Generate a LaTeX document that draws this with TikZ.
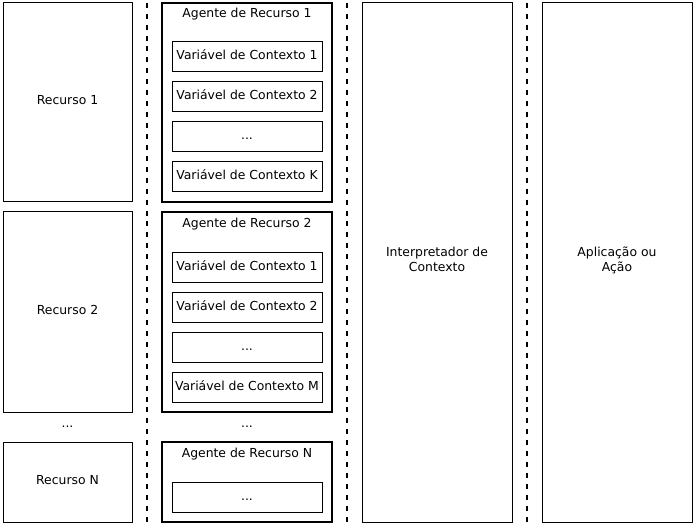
\documentclass[tikz,border=0pt]{standalone}
\usepackage{fontspec}
\setmainfont{DejaVu Sans}
\begin{document}
\begin{tikzpicture}[x=1pt,y=-1pt,
  every node/.style={font=\fontsize{12.4}{14.5}\selectfont, inner sep=0pt, text height=9pt, text depth=3pt},
  thinbox/.style={draw=black, line width=1pt, fill=white},
  thickbox/.style={draw=black, line width=2.5pt, fill=white},
  varbox/.style={thinbox, minimum width=150pt, minimum height=30pt},
  sepline/.style={draw=black, line width=2pt, dash pattern=on 5pt off 5.94pt},
  lbl/.style={align=center}]
\useasboundingbox (0,0) rectangle (694,524);
% separators
\coordinate (s1t) at (147,2.7); \coordinate (s1b) at (147,524);
\coordinate (s2t) at (347,2.7); \coordinate (s2b) at (347,524);
\coordinate (s3t) at (527,2.7); \coordinate (s3b) at (527,524);
\draw[sepline] (s1t) -- (s1b);
\draw[sepline] (s2t) -- (s2b);
\draw[sepline] (s3t) -- (s3b);
% resources
\draw[thinbox] (3,3) rectangle (132,202);
\node (r1) at (67.5,102) {Recurso 1};
\draw[thinbox] (3,212) rectangle (132,412);
\node (r2) at (67.5,311.5) {Recurso 2};
\node (rdots) at (67.5,424) {...};
\draw[thinbox] (3,442) rectangle (132,522);
\node (rn) at (67.5,481.5) {Recurso N};
% agent 1
\draw[thickbox] (162,3) rectangle (332,202);
\node (a1) at (247,15) {Agente de Recurso 1};
\node[varbox] (a1v1) at (247,57) {Variável de Contexto 1};
\node[varbox] (a1v2) at (247,97) {Variável de Contexto 2};
\node[varbox] (a1v3) at (247,137) {...};
\node[varbox] (a1v4) at (247,177) {Variável de Contexto K};
% agent 2
\draw[thickbox] (162,212) rectangle (332,412);
\node (a2) at (247,224) {Agente de Recurso 2};
\node[varbox] (a2v1) at (247,267) {Variável de Contexto 1};
\node[varbox] (a2v2) at (247,307) {Variável de Contexto 2};
\node[varbox] (a2v3) at (247,347) {...};
\node[varbox] (a2v4) at (247,387) {Variável de Contexto M};
\node (adots) at (247,424) {...};
% agent N
\draw[thickbox] (162,442) rectangle (332,522);
\node (an) at (247,454) {Agente de Recurso N};
\node[varbox] (anv1) at (247,497) {...};
% interpreter & application
\draw[thinbox] (362,3) rectangle (512,522);
\node[lbl] (interp) at (437,268) {Interpretador de\\Contexto};
\draw[thinbox] (542,3) rectangle (692,522);
\node[lbl] (app) at (617,268) {Aplicação ou\\Ação};
\end{tikzpicture}
\end{document}
